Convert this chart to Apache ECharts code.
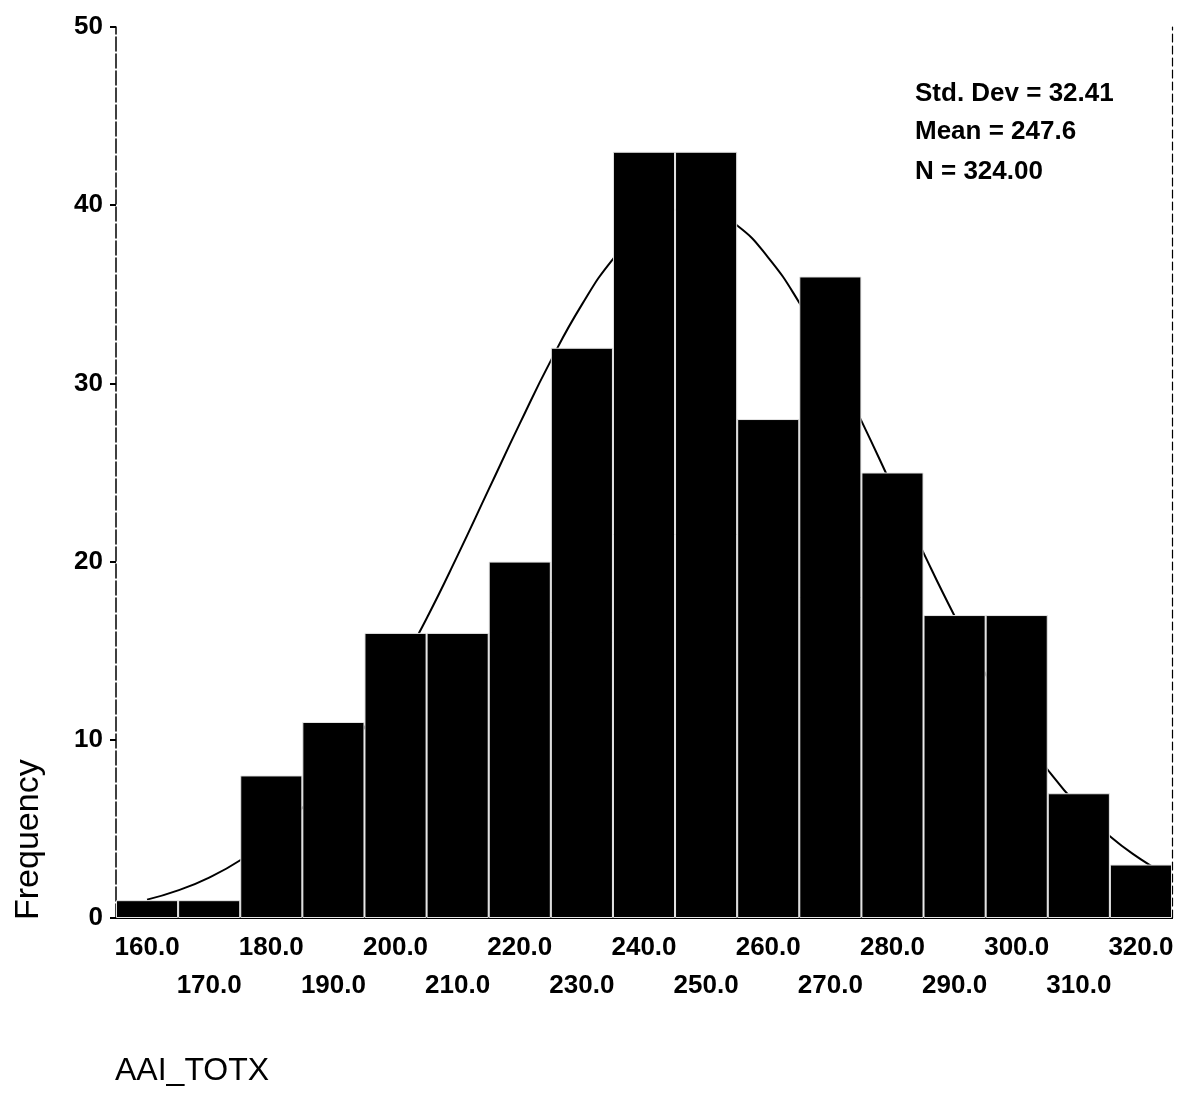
<!DOCTYPE html>
<html><head><meta charset="utf-8">
<script src="https://cdn.jsdelivr.net/npm/echarts@6/dist/echarts.min.js"></script>
<style>html,body{margin:0;padding:0;background:#fff}#c{width:1184px;height:1094px}</style>
</head><body><div id="c"></div>
<script>
const binLabels = ['160.0','170.0','180.0','190.0','200.0','210.0','220.0','230.0','240.0','250.0','260.0','270.0','280.0','290.0','300.0','310.0','320.0'];
const frequencies = [1,1,8,11,16,16,20,32,43,43,28,36,25,17,17,7,3];
const curveX = [160,165,170,175,180,185,190,195,200,205,210,215,220,225,230,235,240,245,250,255,260,265,270,275,280,285,290,295,300,305,310,315,320,323];
const curveY = [1.03,1.55,2.27,3.24,4.53,6.18,8.22,10.69,13.57,16.81,20.35,24.05,27.74,31.28,34.42,36.98,38.80,39.75,39.77,38.86,37.06,34.53,31.41,27.90,24.19,20.49,16.95,13.68,10.79,8.32,6.25,4.59,3.29,2.66];
const statLines = ['Std. Dev = 32.41','Mean = 247.6','N = 324.00'];
const xTitle = 'AAI_TOTX';
const yTitle = 'Frequency';

const FONT = "'Liberation Sans', Arial, sans-serif";
const chart = echarts.init(document.getElementById('c'), null, {renderer:'canvas'});
chart.setOption({
  animation:false,
  backgroundColor:'#fff',
  grid:{left:116, right:12, top:27, bottom:176},
  xAxis:[{
    type:'category', data:binLabels, boundaryGap:true, position:'bottom',
    axisLine:{lineStyle:{color:'#000', width:2}},
    axisTick:{alignWithLabel:true, length:7, lineStyle:{color:'#000', width:2}},
    axisLabel:{
      color:'#000', fontFamily:FONT, fontSize:26, fontWeight:'bold', margin:11, lineHeight:38,
      interval:0,
      formatter:(v,i)=> (i%2 ? '\n'+v : v)
    },
    splitLine:{show:false}
  },{
    type:'value', min:155, max:325, position:'top',
    axisLine:{show:true, lineStyle:{color:'#000', width:2}},
    axisTick:{show:false}, axisLabel:{show:false}, splitLine:{show:false}
  }],
  yAxis:[{
    type:'value', min:0, max:50, interval:10,
    axisLine:{show:true, lineStyle:{color:'#000', width:1.5, type:[14,3]}},
    axisTick:{show:true, length:6, lineStyle:{color:'#000', width:2}},
    axisLabel:{color:'#000', fontFamily:FONT, fontSize:26, fontWeight:'bold', margin:13},
    splitLine:{show:false}
  },{
    type:'value', min:0, max:50, interval:10, position:'right',
    axisLine:{show:true, lineStyle:{color:'#000', width:1.2, type:[8,4]}},
    axisTick:{show:false}, axisLabel:{show:false}, splitLine:{show:false}
  }],
  series:[{
    type:'line', xAxisIndex:1, yAxisIndex:0, z:1,
    data:curveX.map((x,i)=>[x,curveY[i]]),
    smooth:true, symbol:'none',
    lineStyle:{color:'#000', width:2}
  },{
    type:'bar', xAxisIndex:0, yAxisIndex:0, z:3,
    data:frequencies, barCategoryGap:'0%',
    itemStyle:{color:'#000', borderColor:'#e6e6e6', borderWidth:1}
  }],
  graphic:[
    {type:'text', left:915, top:81, style:{text:statLines[0], font:"bold 26px "+FONT, fill:'#000'}},
    {type:'text', left:915, top:119, style:{text:statLines[1], font:"bold 26px "+FONT, fill:'#000'}},
    {type:'text', left:915, top:159, style:{text:statLines[2], font:"bold 26px "+FONT, fill:'#000'}},
    {type:'text', left:115, top:1055, style:{text:xTitle, font:"32px "+FONT, fill:'#000'}},
    {type:'text', x:12, y:920, rotation:Math.PI/2, style:{text:yTitle, font:"34px "+FONT, fill:'#000', textVerticalAlign:'top'}}
  ]
});
</script></body></html>
